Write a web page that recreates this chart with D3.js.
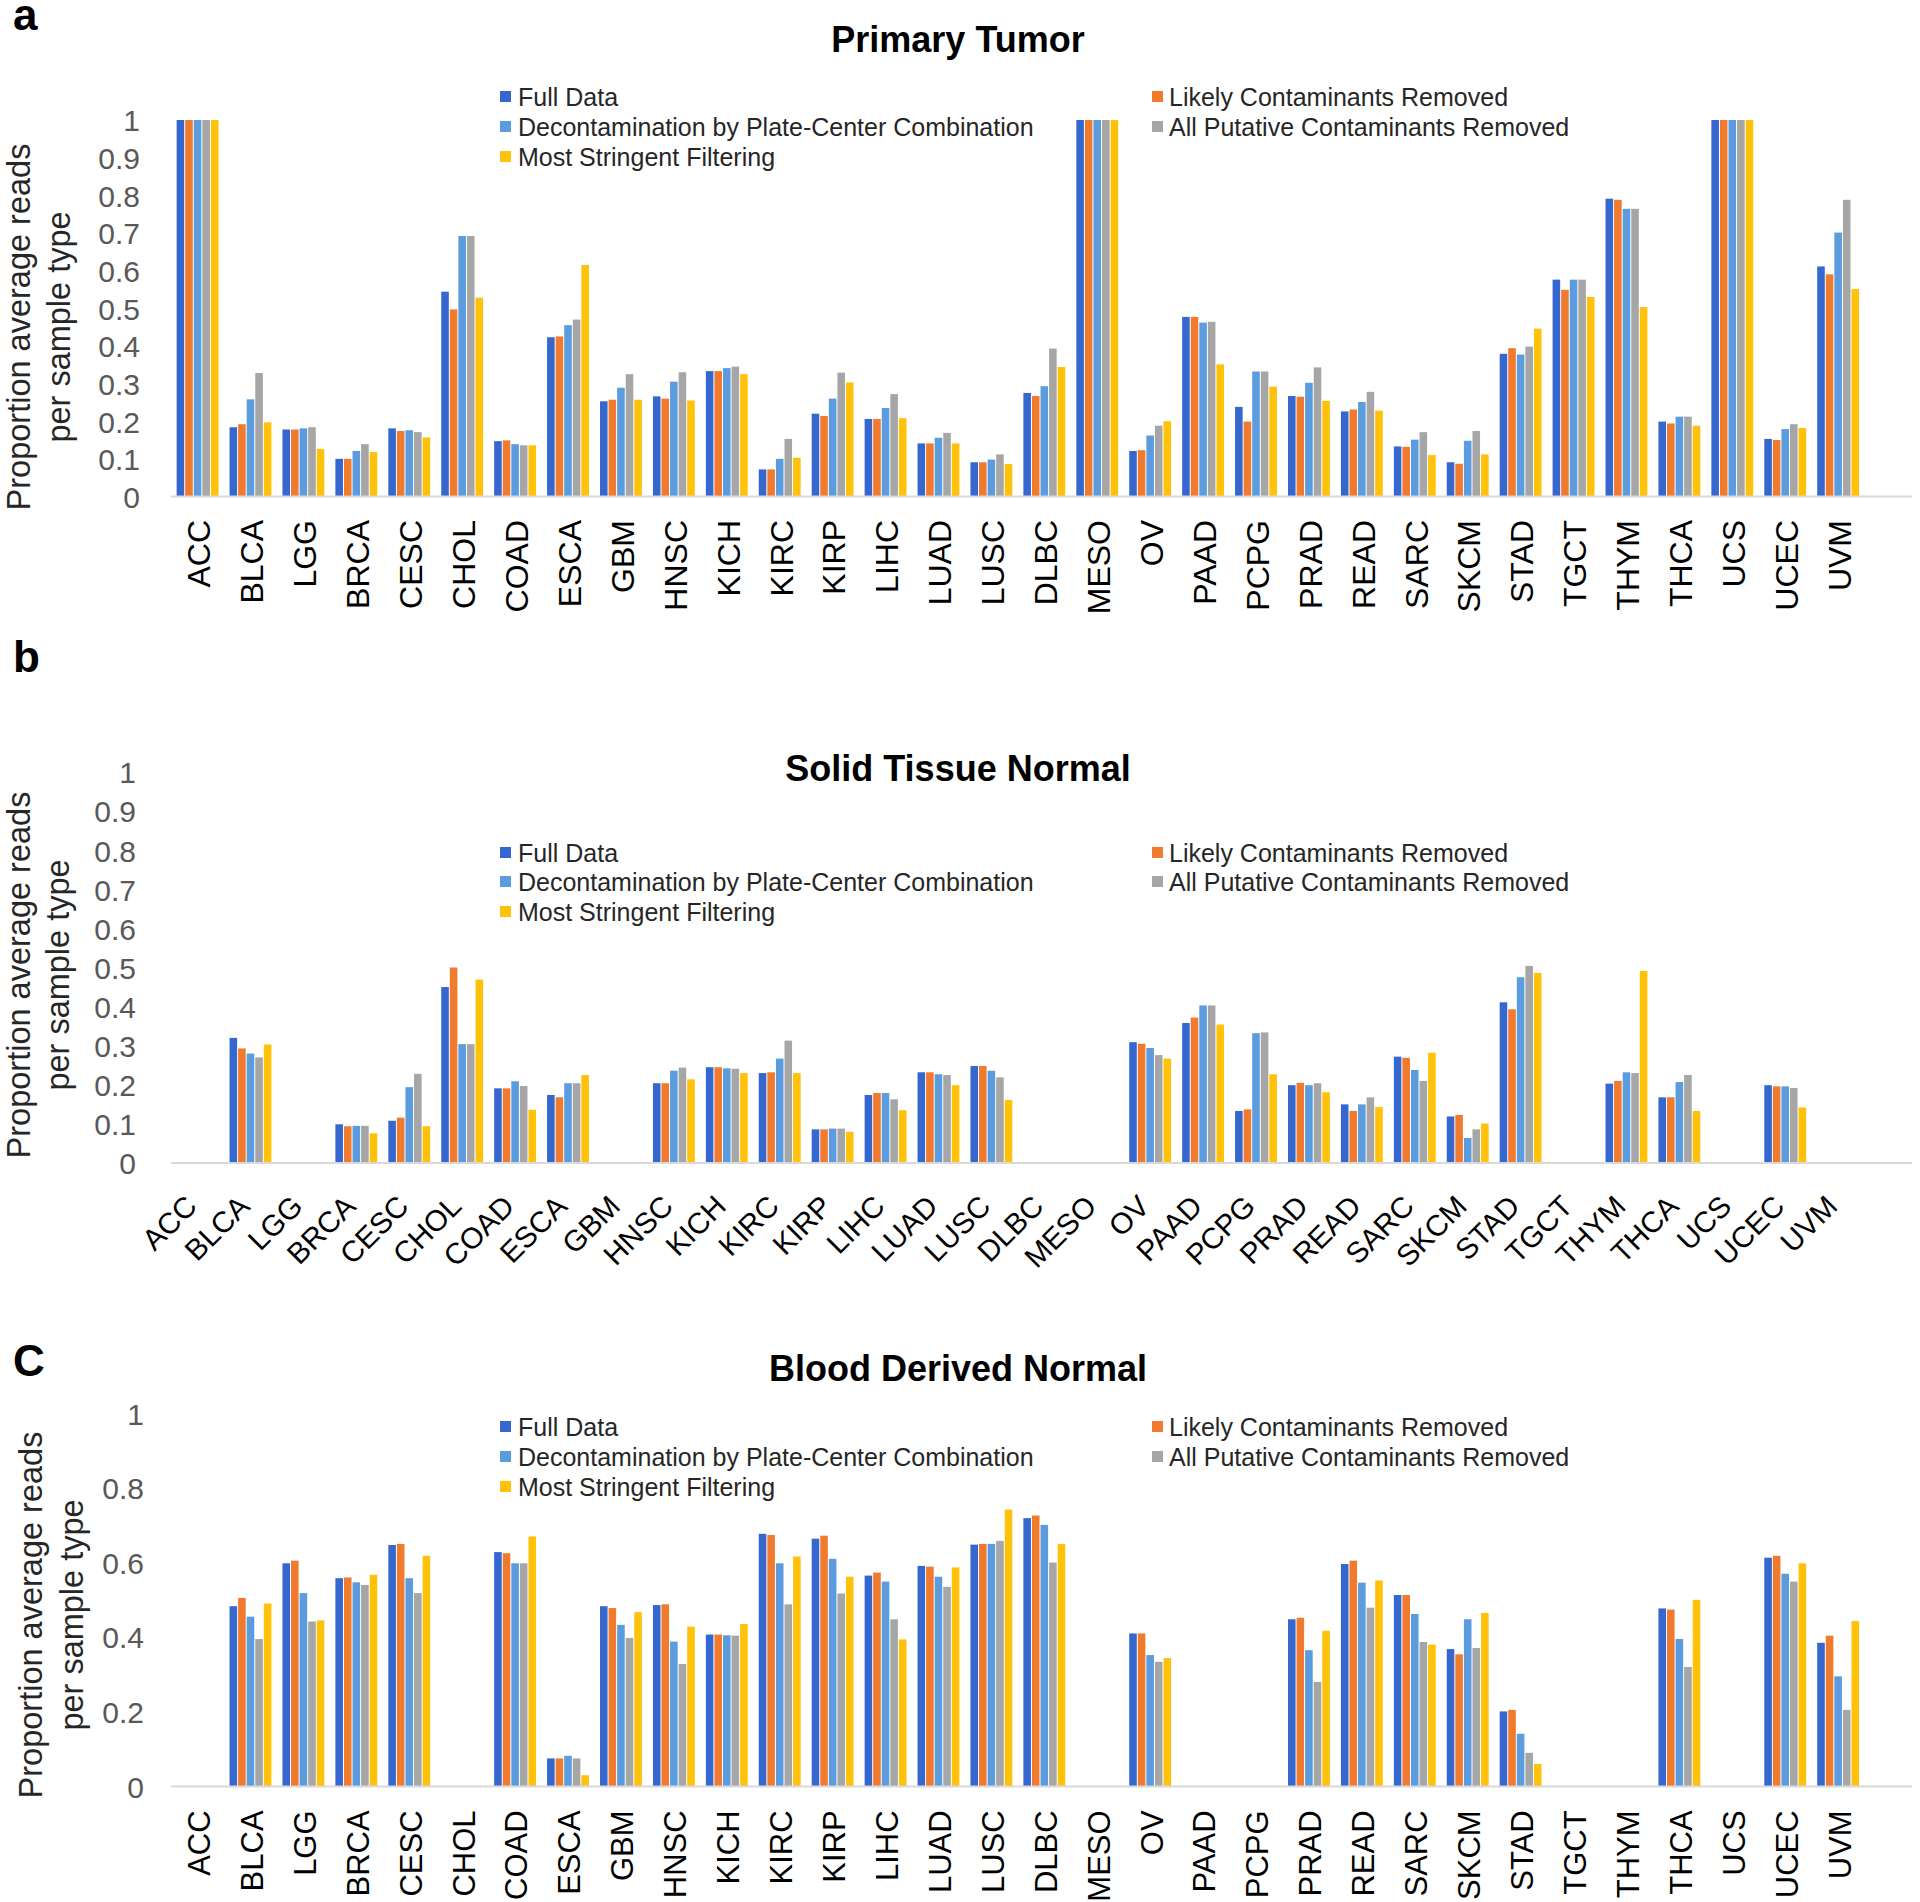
<!DOCTYPE html>
<html><head><meta charset="utf-8">
<script src="https://cdn.jsdelivr.net/npm/d3@7"></script>
<style>
body{margin:0;background:#fff;}
svg{display:block;font-family:"Liberation Sans",Arial,Helvetica,sans-serif;}
</style>
</head><body>
<svg id="chart" width="1920" height="1902"></svg>
<script>
// ---------------- DATA ----------------
const categories = ["ACC","BLCA","LGG","BRCA","CESC","CHOL","COAD","ESCA","GBM","HNSC","KICH","KIRC","KIRP","LIHC","LUAD","LUSC","DLBC","MESO","OV","PAAD","PCPG","PRAD","READ","SARC","SKCM","STAD","TGCT","THYM","THCA","UCS","UCEC","UVM"];
const seriesNames = ["Full Data","Likely Contaminants Removed","Decontamination by Plate-Center Combination","All Putative Contaminants Removed","Most Stringent Filtering"];
const seriesColors = ["#3567CF","#F07A2E","#5A9CDD","#A6A6A6","#FFC10A"];

// a: Primary Tumor
const tumorFull   = [1,0.184,0.178,0.100,0.181,0.544,0.147,0.423,0.253,0.266,0.333,0.072,0.220,0.206,0.141,0.091,0.275,1,0.121,0.477,0.238,0.267,0.226,0.133,0.091,0.379,0.576,0.791,0.199,1,0.153,0.611];
const tumorLikely = [1,0.192,0.178,0.100,0.174,0.497,0.149,0.425,0.257,0.260,0.333,0.072,0.214,0.206,0.141,0.091,0.267,1,0.123,0.477,0.199,0.265,0.231,0.132,0.087,0.394,0.549,0.788,0.194,1,0.150,0.590];
const tumorDecon  = [1,0.258,0.181,0.121,0.176,0.692,0.139,0.455,0.289,0.305,0.341,0.100,0.260,0.235,0.156,0.098,0.293,1,0.162,0.462,0.332,0.302,0.251,0.151,0.148,0.377,0.576,0.764,0.212,1,0.179,0.701];
const tumorAllPut = [1,0.328,0.184,0.139,0.171,0.692,0.136,0.470,0.325,0.330,0.345,0.153,0.329,0.272,0.169,0.112,0.393,1,0.188,0.464,0.332,0.343,0.278,0.171,0.174,0.398,0.576,0.764,0.212,1,0.192,0.788];
const tumorMost   = [1,0.197,0.126,0.118,0.157,0.528,0.136,0.615,0.257,0.255,0.325,0.103,0.303,0.208,0.141,0.086,0.344,1,0.200,0.351,0.292,0.254,0.228,0.110,0.112,0.446,0.530,0.503,0.188,1,0.182,0.551];

// b: Solid Tissue Normal
const solidFull   = [null,0.320,null,0.099,0.108,0.450,0.191,0.174,null,0.204,0.245,0.230,0.086,0.174,0.232,0.248,null,null,0.309,0.358,0.133,0.199,0.150,0.272,0.119,0.411,null,0.203,0.168,null,0.199,null];
const solidLikely = [null,0.293,null,0.094,0.116,0.500,0.191,0.168,null,0.204,0.245,0.232,0.086,0.179,0.232,0.248,null,null,0.305,0.372,0.137,0.205,0.133,0.269,0.123,0.393,null,0.210,0.168,null,0.196,null];
const solidDecon  = [null,0.280,null,0.095,0.194,0.304,0.209,0.204,null,0.236,0.242,0.267,0.088,0.179,0.227,0.236,null,null,0.294,0.403,0.332,0.199,0.150,0.238,0.064,0.475,null,0.232,0.207,null,0.196,null];
const solidAllPut = [null,0.270,null,0.095,0.228,0.304,0.197,0.204,null,0.244,0.241,0.313,0.088,0.163,0.225,0.219,null,null,0.276,0.403,0.334,0.204,0.168,0.210,0.086,0.504,null,0.230,0.225,null,0.192,null];
const solidMost   = [null,0.303,null,0.076,0.094,0.469,0.136,0.225,null,0.214,0.230,0.230,0.080,0.135,0.199,0.161,null,null,0.267,0.354,0.227,0.181,0.143,0.282,0.101,0.486,null,0.491,0.133,null,0.142,null];

// c: Blood Derived Normal
const bloodFull   = [null,0.483,0.598,0.558,0.647,null,0.628,0.075,0.483,0.486,0.407,0.677,0.664,0.565,0.591,0.648,0.719,null,0.410,null,null,0.448,0.596,0.513,0.368,0.201,null,null,0.477,null,0.613,0.385];
const bloodLikely = [null,0.505,0.605,0.560,0.650,null,0.625,0.075,0.478,0.488,0.407,0.674,0.672,0.573,0.589,0.650,0.726,null,0.410,null,null,0.452,0.605,0.513,0.354,0.205,null,null,0.474,null,0.618,0.404];
const bloodDecon  = [null,0.455,0.518,0.547,0.558,null,0.598,0.082,0.433,0.388,0.405,0.598,0.610,0.549,0.562,0.650,0.701,null,0.352,null,null,0.365,0.546,0.462,0.448,0.141,null,null,0.395,null,0.570,0.295];
const bloodAllPut = [null,0.395,0.442,0.540,0.518,null,0.598,0.075,0.398,0.328,0.404,0.488,0.517,0.448,0.535,0.658,0.600,null,0.334,null,null,0.280,0.479,0.387,0.371,0.090,null,null,0.320,null,0.549,0.205];
const bloodMost   = [null,0.490,0.445,0.567,0.618,null,0.670,0.030,0.467,0.428,0.435,0.616,0.562,0.394,0.587,0.742,0.650,null,0.344,null,null,0.417,0.552,0.380,0.465,0.060,null,null,0.500,null,0.598,0.443];

const ticksTenths = [0,0.1,0.2,0.3,0.4,0.5,0.6,0.7,0.8,0.9,1];
const ticksFifths = [0,0.2,0.4,0.6,0.8,1];
const panelTitles = ["Primary Tumor","Solid Tissue Normal","Blood Derived Normal"];
const panelLetters = ["a","b","C"];
const yTitleLines = ["Proportion average reads","per sample type"];

// ---------------- DRAW ----------------
const svg = d3.select("#chart");
const plotLeft = 171.1, plotRight = 1864.6, axisLineEnd = 1912;
const x0 = d3.scaleBand().domain(categories).range([plotLeft, plotRight]).paddingInner(0.19).paddingOuter(0.095);
const x1 = d3.scaleBand().domain(seriesNames).range([0, x0.bandwidth()]);
const color = d3.scaleOrdinal().domain(seriesNames).range(seriesColors);

const panels = [
  {series:[tumorFull,tumorLikely,tumorDecon,tumorAllPut,tumorMost], top:120, bottom:496.5, ticks:ticksTenths, tickX:140,
   titleY:52, legendY:[97,127,157], letterY:29.5, yTitleX:[30,70], yTitleC:327, rot:-90, labOff:23.5, labSize:32},
  {series:[solidFull,solidLikely,solidDecon,solidAllPut,solidMost], top:772, bottom:1163, ticks:ticksTenths, tickX:136,
   titleY:781, legendY:[853,882,912], letterY:672, yTitleX:[30,69], yTitleC:975, rot:-45, labOff:45, labSize:29.5},
  {series:[bloodFull,bloodLikely,bloodDecon,bloodAllPut,bloodMost], top:1413.3, bottom:1786.4, ticks:ticksFifths, tickX:144,
   titleY:1381, legendY:[1427,1457,1487], letterY:1376, yTitleX:[42,83], yTitleC:1615, rot:-90, labOff:24, labSize:31}
];

panels.forEach((p, pi) => {
  const g = svg.append("g");
  const y = d3.scaleLinear().domain([0,1]).range([p.bottom, p.top]);

  // panel letter
  g.append("text").attr("x", 13).attr("y", p.letterY)
    .attr("font-size", 44).attr("font-weight", "bold").attr("fill", "#000")
    .text(panelLetters[pi]);

  // title
  g.append("text").attr("x", 958).attr("y", p.titleY).attr("text-anchor", "middle")
    .attr("font-size", 36).attr("font-weight", "bold").attr("fill", "#000")
    .text(panelTitles[pi]);

  // y axis title
  yTitleLines.forEach((t, li) => {
    g.append("text")
      .attr("transform", `translate(${p.yTitleX[li]},${p.yTitleC}) rotate(-90)`)
      .attr("text-anchor", "middle").attr("font-size", 32.5).attr("fill", "#262626")
      .text(t);
  });

  // y axis tick labels
  const yAxis = d3.axisLeft(y).tickValues(p.ticks).tickSize(0).tickPadding(0)
    .tickFormat(d => d3.format("~g")(d));
  const ya = g.append("g").attr("transform", `translate(${p.tickX},0)`).call(yAxis);
  ya.select(".domain").remove();
  ya.selectAll("text").attr("font-size", 30).attr("fill", "#595959")
    .attr("font-family", "Liberation Sans, Arial, sans-serif").attr("dy", "0.36em");

  // bars
  const groups = g.append("g").selectAll("g").data(categories).join("g")
    .attr("transform", d => `translate(${x0(d)},0)`);
  groups.selectAll("rect")
    .data((d, ci) => seriesNames.map((s, si) => ({s, v: p.series[si][ci]})).filter(e => e.v != null))
    .join("rect")
    .attr("x", e => x1(e.s) + 0.5)
    .attr("width", x1.bandwidth() - 1)
    .attr("y", e => y(e.v))
    .attr("height", e => y(0) - y(e.v))
    .attr("fill", e => color(e.s));

  // x axis line
  g.append("line").attr("x1", plotLeft).attr("x2", axisLineEnd)
    .attr("y1", y(0)).attr("y2", y(0)).attr("stroke", "#D9D9D9").attr("stroke-width", 2);

  // x axis labels
  const xAxis = d3.axisBottom(x0).tickSize(0).tickPadding(0);
  const xa = g.append("g").attr("transform", `translate(0,${y(0)})`).call(xAxis);
  xa.select(".domain").remove();
  const xt = xa.selectAll("text").attr("font-size", p.labSize).attr("fill", "#000")
    .attr("font-family", "Liberation Sans, Arial, sans-serif")
    .attr("x", 0).attr("y", 0).attr("text-anchor", "end");
  if (p.rot === -90) {
    xt.attr("dy", "0.4em").attr("transform", `translate(0,${p.labOff}) rotate(-90)`);
  } else {
    xt.attr("dy", "0").attr("transform", `translate(1,${p.labOff}) rotate(-45)`);
  }

  // legend (two columns, row-major)
  const colX = [[500,518],[1152,1169]];
  seriesNames.forEach((s, si) => {
    const row = Math.floor(si / 2), col = si % 2;
    const cy = p.legendY[row];
    g.append("rect").attr("x", colX[col][0]).attr("y", cy - 6).attr("width", 11).attr("height", 11)
      .attr("fill", color(s));
    g.append("text").attr("x", colX[col][1]).attr("y", cy).attr("dy", "0.36em")
      .attr("font-size", 25).attr("fill", "#262626").text(s);
  });
});
</script>
</body></html>
